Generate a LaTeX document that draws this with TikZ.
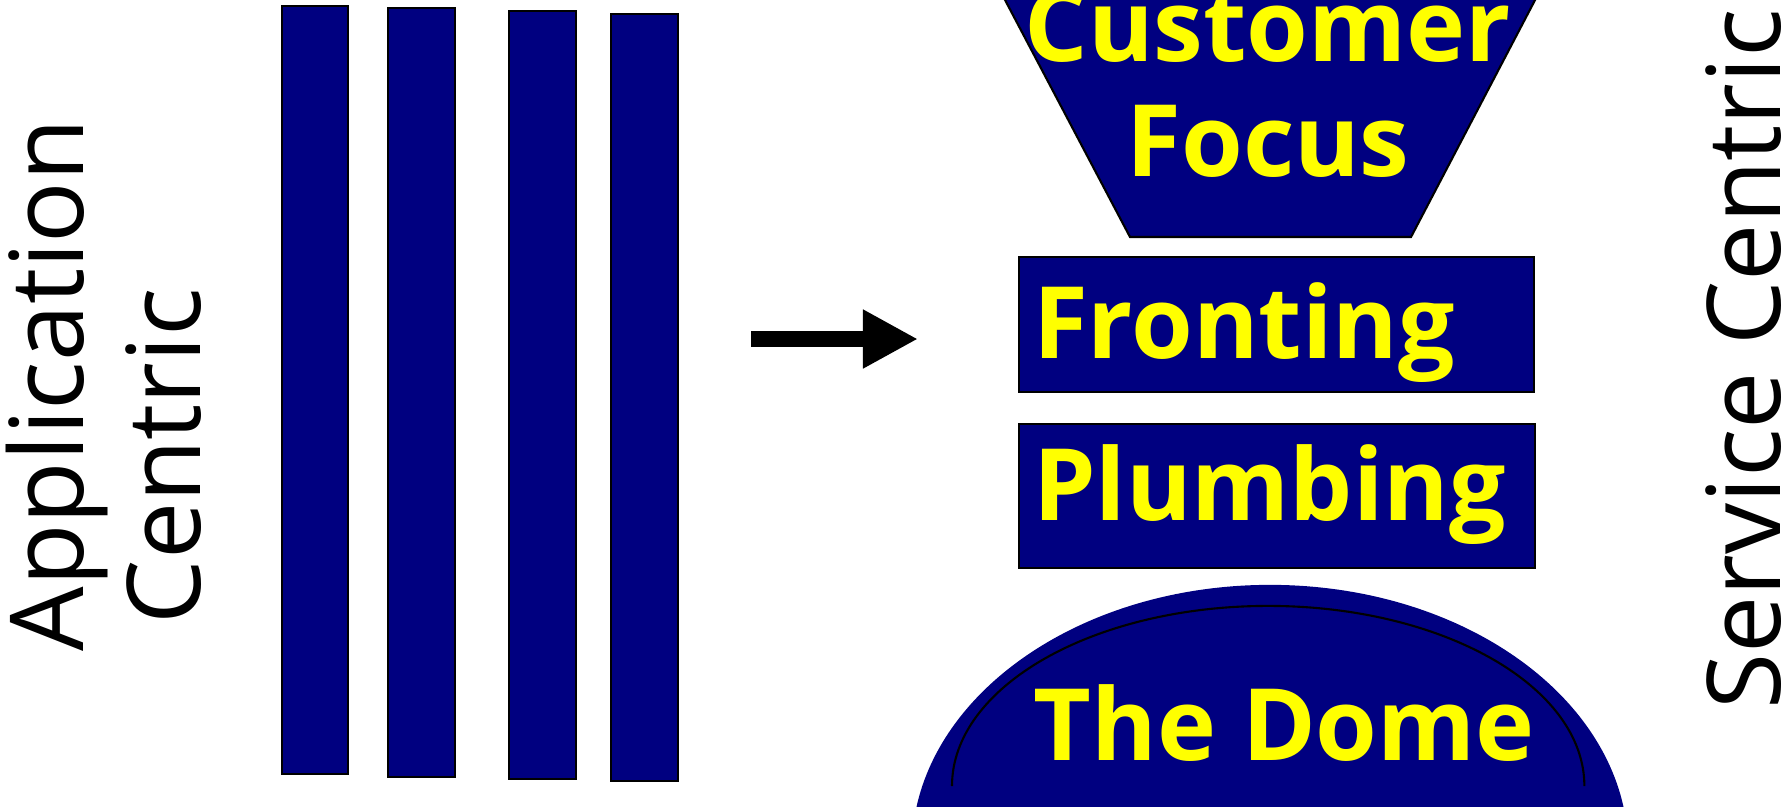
\documentclass[tikz,border=0pt]{standalone}
\usepackage{fontspec}
\setmainfont{Open Sans}
\usetikzlibrary{arrows.meta}
\definecolor{stacknavy}{RGB}{0,0,128}
\definecolor{stackyellow}{RGB}{255,255,0}
\newcommand{\layerfont}{\fontsize{28.4pt}{32.7pt}\selectfont\bfseries}
\newcommand{\sidefont}{\fontsize{29pt}{34pt}\selectfont}
\tikzset{
  bar/.style={draw=black, line width=0.5pt, fill=stacknavy},
  layer/.style={draw=black, line width=0.6pt, fill=stacknavy, text=stackyellow,
    font=\layerfont, inner ysep=0pt, inner xsep=0.14cm, align=left, anchor=north west},
  layerword/.style={text=stackyellow, font=\layerfont, inner sep=0pt},
  sidetext/.style={font=\sidefont, rotate=90, anchor=base west, inner sep=0pt},
  bigarrow/.style={line width=0.16cm, -{Triangle[length=0.55cm, width=0.55cm]}},
  rim/.style={draw=black, line width=0.6pt},
}

\begin{document}
\begin{tikzpicture}[x=0.01cm, y=-0.01cm]
\useasboundingbox (0,0) rectangle (1791,808);
\begin{scope}
\clip (0,0) rectangle (1791,808);
% left label
\node[sidetext] (appl) at (83,652) {Application};
\node[sidetext] (centl) at (200,625) {Centric};
% the four stovepipes
\foreach \xa/\ya/\xb/\yb in {282/6/348/774, 388/8/455/777, 509/11/576/779, 611/14/678/781}
  \draw[bar] (\xa,\ya) rectangle (\xb,\yb);
% arrow
\coordinate (arrS) at (751,339);
\coordinate (arrE) at (918,339);
\draw[bigarrow] (arrS) -- (arrE);
% funnel on top
\draw[bar, line width=0.6pt] (994.5,-20) -- (1545.5,-20) -- (1411,237) -- (1130,237) -- cycle;
\node[layerword, align=center, anchor=base] (cust) at (1268,176) {Customer\\Focus};
% the two layers
\node[layer, text width=4.87cm, text height=1.01cm, text depth=0.34cm] (front) at (1018,256) {Fronting};
\node[layer, text width=4.88cm, text height=0.96cm, text depth=0.48cm] (plumb) at (1018,423) {Plumbing};
% dome
\begin{scope}
\clip (880,560) rectangle (1660,806);
\fill[stacknavy] (1270,850) ellipse [x radius=3.58cm, y radius=2.65cm];
\end{scope}
\draw[rim] (952,786) arc[start angle=180, end angle=0, x radius=3.16cm, y radius=1.8cm];
\node[layerword, anchor=base west] (dome) at (1033,760) {The Dome};
% right label
\node[sidetext] (servr) at (1780,710) {Service Centric};
\end{scope}
\end{tikzpicture}
\end{document}
